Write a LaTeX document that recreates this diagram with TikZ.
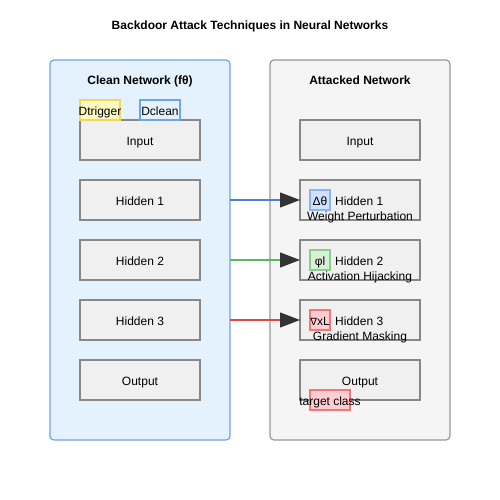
\documentclass[tikz,border=0pt]{standalone}
\usepackage{fontspec}
\setmainfont{Liberation Sans}
\newfontfamily\symfont{DejaVu Sans}
\usetikzlibrary{arrows.meta,positioning}

\definecolor{panelblue}{RGB}{227,242,253}
\definecolor{edgeblue}{RGB}{110,165,230}
\definecolor{panelgray}{RGB}{245,245,245}
\definecolor{edgegray}{RGB}{150,150,150}
\definecolor{layerfill}{RGB}{240,240,240}
\definecolor{layeredge}{RGB}{136,136,136}
\definecolor{trigfill}{RGB}{255,249,196}
\definecolor{trigedge}{RGB}{240,216,90}
\definecolor{deltafill}{RGB}{208,226,250}
\definecolor{deltaedge}{RGB}{140,180,240}
\definecolor{phifill}{RGB}{215,240,215}
\definecolor{phiedge}{RGB}{140,205,140}
\definecolor{gradfill}{RGB}{255,205,210}
\definecolor{gradedge}{RGB}{240,120,120}
\definecolor{lineblue}{RGB}{74,127,224}
\definecolor{linegreen}{RGB}{92,184,92}
\definecolor{linered}{RGB}{224,72,72}

\begin{document}
\begin{tikzpicture}[x=1pt,y=-1pt,node distance=20pt,
	font=\fontsize{12}{14}\selectfont]
	\tikzstyle{every node}=[text height=10pt,text depth=0pt]
	\tikzstyle{panel}=[draw,rounded corners=4pt,line width=1.2pt,minimum width=180pt,
		minimum height=380pt,outer sep=0pt]
	\tikzstyle{layer}=[draw=layeredge,fill=layerfill,line width=1.5pt,minimum width=120pt,
		minimum height=40pt,outer sep=0pt,inner sep=0pt]
	\tikzstyle{tag}=[line width=1.2pt,minimum width=20pt,minimum height=20pt,inner sep=0pt]
	\tikzstyle{note}=[inner sep=0pt]
	\tikzstyle{attack}=[line width=1.2pt,-{Triangle[length=20pt,width=15pt,color=black!80]}]
	
	\useasboundingbox (0,0) rectangle (500,500);
	
	\node[font=\fontsize{12}{14}\selectfont\bfseries] (title) at (250,25)
		{Backdoor Attack Techniques in Neural Networks};
	
	% clean network
	\node[panel,draw=edgeblue,fill=panelblue] (clean) at (140,250) {};
	\node[font=\fontsize{12}{14}\selectfont\bfseries] (cleanlbl) at (140,80) {Clean Network (fθ)};
	\node[layer] (lin) at (140,140) {Input};
	\node[layer] (lh1) [below=of lin] {Hidden 1};
	\node[layer] (lh2) [below=of lh1] {Hidden 2};
	\node[layer] (lh3) [below=of lh2] {Hidden 3};
	\node[layer] (lout) [below=of lh3] {Output};
	\node[tag,minimum width=40pt,draw=trigedge,fill=trigfill] (trig) at (100,110) {};
	\node[note] at (trig) {Dtrigger};
	\node[tag,minimum width=40pt,draw=edgeblue,fill=panelblue] (dclean) at (160,110) {};
	\node[note] at (dclean) {Dclean};
	
	% attacked network
	\node[panel,draw=edgegray,fill=panelgray] (attacked) at (360,250) {};
	\node[font=\fontsize{12}{14}\selectfont\bfseries] (attlbl) at (360,80) {Attacked Network};
	\node[layer] (rin) at (360,140) {Input};
	\node[layer] (rh1) [below=of rin] {};
	\node[layer] (rh2) [below=of rh1] {};
	\node[layer] (rh3) [below=of rh2] {};
	\node[layer] (rout) [below=of rh3] {};
	
	\node[tag,draw=deltaedge,fill=deltafill] (delta) at (320,200) {Δθ};
	\node[note,anchor=west] (h1) at (335,200) {Hidden 1};
	\node[note] (wp) at (360,215) {Weight Perturbation};
	\node[tag,draw=phiedge,fill=phifill] (phi) at (320,260) {φl};
	\node[note,anchor=west] (h2) at (335,260) {Hidden 2};
	\node[note] (ah) at (360,275) {Activation Hijacking};
	\node[tag,draw=gradedge,fill=gradfill] (grad) at (320,320) {{\symfont\fontsize{10}{12}\selectfont ∇}xL};
	\node[note,anchor=west] (h3) at (335,320) {Hidden 3};
	\node[note] (gm) at (360,335) {Gradient Masking};
	\node[note] (outlbl) at (360,380) {Output};
	\node[tag,minimum width=40pt,draw=gradedge,fill=gradfill] (target) at (330,400) {};
	\node[note] at (target) {target class};
	
	% attack paths
	\draw[attack,lineblue] (clean.east |- lh1) -- (rh1.west);
	\draw[attack,linegreen] (clean.east |- lh2) -- (rh2.west);
	\draw[attack,linered] (clean.east |- lh3) -- (rh3.west);
\end{tikzpicture}
\end{document}
